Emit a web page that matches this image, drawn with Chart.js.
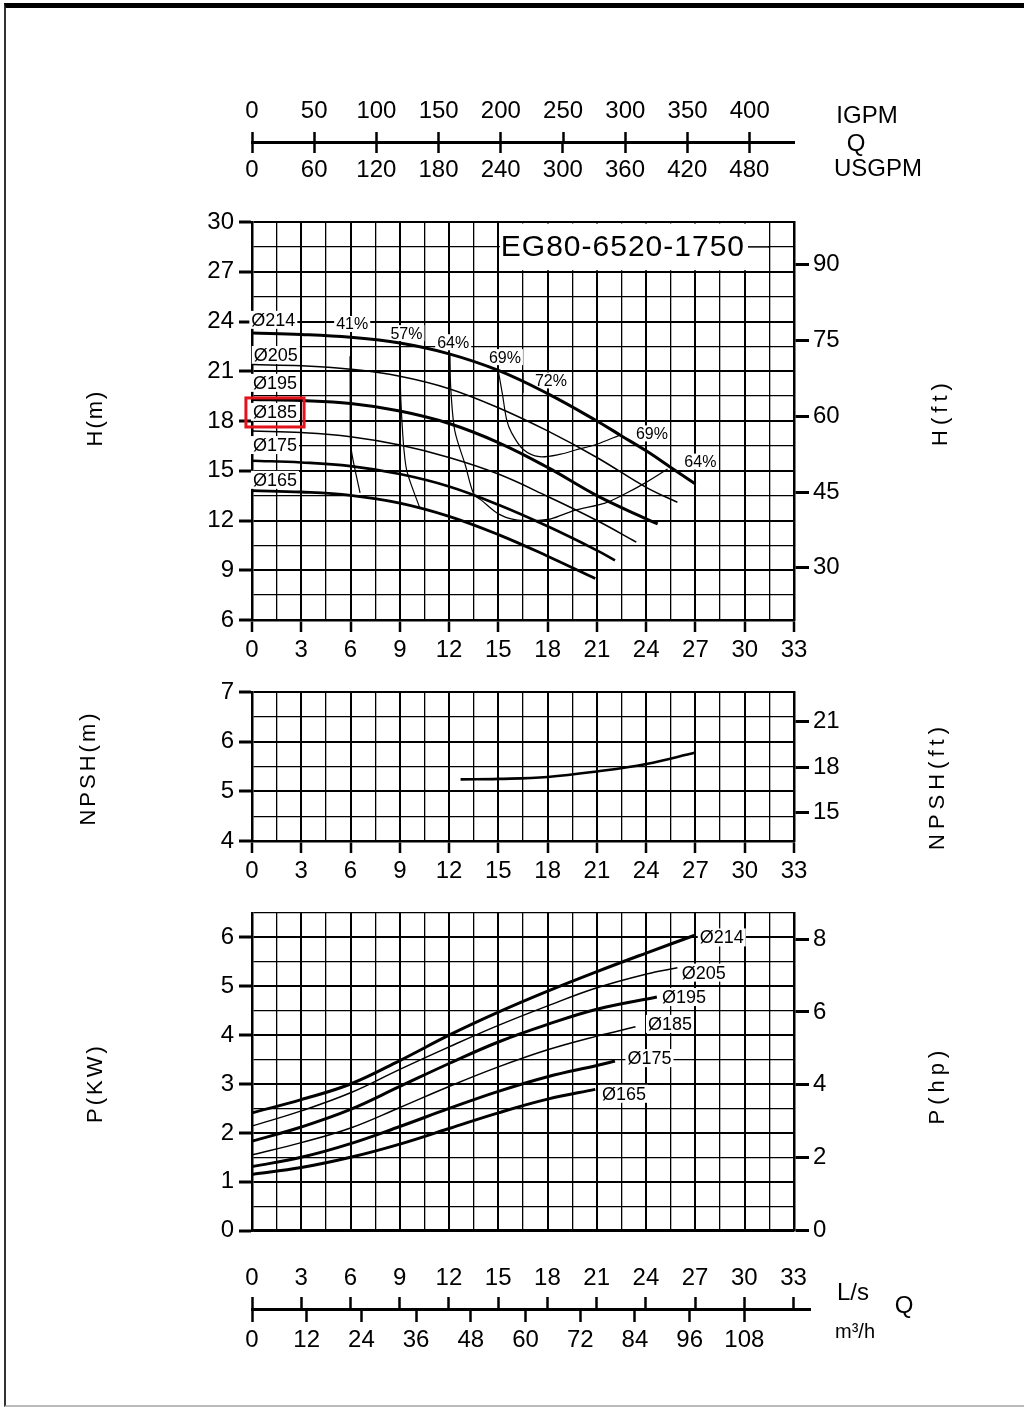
<!DOCTYPE html>
<html>
<head>
<meta charset="utf-8">
<title>EG80-6520-1750</title>
<script src="https://cdn.jsdelivr.net/npm/chart.js@4.4.1/dist/chart.umd.min.js"></script>
<style>
  html, body { margin: 0; padding: 0; background: #fff; }
  body { width: 1024px; height: 1407px; position: relative; overflow: hidden;
         font-family: "Liberation Sans", Arial, sans-serif; color: #000; }
  .frame { position: absolute; left: 4px; top: 3px; width: 1040px; height: 1397px;
           border-top: 5px solid #000; border-left: 2px solid #333; border-bottom: 2px solid #bbb; }
  canvas { position: absolute; left: 0; }
  .lbl { position: absolute; white-space: nowrap; transform: translate(-50%, -50%);
         font-size: 24px; line-height: 1; }
  .rot { transform: translate(-50%, -50%) rotate(-90deg); font-size: 22px; letter-spacing: 2px; }
  .wide { letter-spacing: 5px; }
</style>
</head>
<body>
<div class="frame"></div>

<canvas id="qTop" width="1024" height="110" style="top:80px"></canvas>
<canvas id="head" width="1024" height="480" style="top:190px"></canvas>
<canvas id="npsh" width="1024" height="221" style="top:670px"></canvas>
<canvas id="power" width="1024" height="359" style="top:891px"></canvas>
<canvas id="qBottom" width="1024" height="110" style="top:1250px"></canvas>

<div class="lbl" style="left:867px;top:115px">IGPM</div>
<div class="lbl" style="left:856px;top:143px">Q</div>
<div class="lbl" style="left:878px;top:168px">USGPM</div>

<div class="lbl rot" style="left:95px;top:418px">H(m)</div>
<div class="lbl rot wide" style="left:940px;top:412px">H(ft)</div>
<div class="lbl rot" style="left:88px;top:768px;letter-spacing:3px">NPSH(m)</div>
<div class="lbl rot wide" style="left:937px;top:786px">NPSH(ft)</div>
<div class="lbl rot" style="left:95px;top:1083px;letter-spacing:3px">P(KW)</div>
<div class="lbl rot wide" style="left:937px;top:1085px">P(hp)</div>

<div class="lbl" style="left:853px;top:1292px">L/s</div>
<div class="lbl" style="left:904px;top:1305px">Q</div>
<div class="lbl" style="left:855px;top:1331px;font-size:20px">m³/h</div>

<script>
// unit conversions for the secondary axes
const LS_TO_IGPM = 13.198;
const LS_TO_USGPM = 15.850;
const LS_TO_M3H = 3.6;
const M_TO_FT = 1 / 0.3048;
const KW_TO_HP = 1 / 0.7457;

const modelName = 'EG80-6520-1750';
const impellers = ['Ø214', 'Ø205', 'Ø195', 'Ø185', 'Ø175', 'Ø165'];

// H-Q curves (Q in L/s, H in m)
const headQ214 = [0, 3, 6, 9, 12, 15, 18, 21, 22.5, 24, 25.5, 27];
const headH214 = [23.3, 23.22, 23.05, 22.7, 22.05, 21.05, 19.65, 18.0, 17.1, 16.2, 15.2, 14.2];
const headQ205 = [0, 3, 6, 9, 12, 15, 18, 21, 24, 25.9];
const headH205 = [21.4, 21.33, 21.12, 20.7, 19.95, 18.8, 17.4, 15.8, 14.0, 13.1];
const headQ195 = [0, 3, 6, 9, 12, 15, 18, 21, 24, 24.7];
const headH195 = [19.3, 19.23, 19.05, 18.6, 17.85, 16.7, 15.2, 13.5, 12.1, 11.8];
const headQ185 = [0, 3, 6, 9, 12, 15, 18, 21, 23.4];
const headH185 = [17.4, 17.3, 17.05, 16.55, 15.8, 14.8, 13.45, 12.0, 10.7];
const headQ175 = [0, 3, 6, 9, 12, 15, 18, 21, 22.1];
const headH175 = [15.6, 15.5, 15.28, 14.8, 14.05, 12.95, 11.65, 10.2, 9.6];
const headQ165 = [0, 3, 6, 9, 12, 15, 18, 20.9];
const headH165 = [13.8, 13.72, 13.52, 13.05, 12.25, 11.15, 9.85, 8.5];

// iso-efficiency lines
const effQ41 = [5.97, 5.98, 6.0, 6.15, 6.58];
const effH41 = [21.9, 19.5, 16.7, 15.65, 13.66];
const effQ57 = [9.0, 9.02, 9.1, 9.25, 9.45, 10.2];
const effH57 = [22.6, 20.5, 18.5, 16.3, 14.9, 12.8];
const effQ64 = [12.05, 12.1, 12.35, 13.0, 13.5, 14.0, 15.0, 16.0, 17.1, 18.2, 19.6, 21.5, 22.6, 24.0, 25.3];
const effH64 = [22.1, 20.0, 17.4, 15.3, 13.6, 13.2, 12.4, 12.05, 12.0, 12.1, 12.6, 13.05, 13.55, 14.3, 15.1];
const effQ69 = [15.0, 15.25, 15.5, 15.8, 16.5, 17.5, 18.8, 19.7, 21.0, 22.4];
const effH69 = [21.0, 19.6, 18.1, 17.3, 16.3, 15.85, 16.0, 16.25, 16.6, 17.15];
const effQ72 = [16.5, 16.5, 17.2, 18.0, 18.0];
const effH72 = [20.9, 19.7, null, 17.8, 16.9];

const effTags = ['41%', '57%', '64%', '69%', '72%', '69%', '64%'];
const effTagQ = [6.1, 9.4, 12.25, 15.4, 18.2, 24.35, 27.3];
const effTagH = [23.85, 23.3, 22.75, 21.85, 20.45, 17.25, 15.55];
const headTagQ = [1.3, 1.45, 1.4, 1.4, 1.4, 1.4];
const headTagH = [24.1, 21.98, 20.3, 18.55, 16.55, 14.45];

// NPSH-Q curve
const npshQ = [12.7, 15, 18, 21, 24, 27];
const npshM = [5.24, 5.25, 5.29, 5.4, 5.55, 5.78];

// P-Q curves (kW)
const powerQ214 = [0, 3, 6, 9, 12, 15, 18, 21, 24, 27];
const powerP214 = [2.41, 2.68, 3.0, 3.48, 4.0, 4.47, 4.9, 5.3, 5.68, 6.05];
const powerQ205 = [0, 3, 6, 9, 12, 15, 18, 21, 24, 25.9];
const powerP205 = [2.14, 2.45, 2.82, 3.3, 3.76, 4.2, 4.6, 4.97, 5.25, 5.38];
const powerQ195 = [0, 3, 6, 9, 12, 15, 18, 21, 24.65];
const powerP195 = [1.83, 2.12, 2.48, 2.95, 3.42, 3.86, 4.22, 4.53, 4.78];
const powerQ185 = [0, 3, 6, 9, 12, 15, 18, 21, 23.35];
const powerP185 = [1.55, 1.8, 2.1, 2.52, 2.95, 3.35, 3.7, 3.98, 4.17];
const powerQ175 = [0, 3, 6, 9, 12, 15, 18, 21, 22.1];
const powerP175 = [1.31, 1.5, 1.78, 2.13, 2.5, 2.85, 3.15, 3.38, 3.47];
const powerQ165 = [0, 3, 6, 9, 12, 15, 18, 20.9];
const powerP165 = [1.15, 1.29, 1.5, 1.77, 2.09, 2.41, 2.69, 2.89];

const powerTagQ = [28.6, 27.5, 26.3, 25.45, 24.2, 22.65];
const powerTagP = [6.0, 5.28, 4.78, 4.23, 3.53, 2.8];

// tick labels
const igpmTicks = [0, 50, 100, 150, 200, 250, 300, 350, 400];
const usgpmTicks = [0, 60, 120, 180, 240, 300, 360, 420, 480];
const lsTicks = [0, 3, 6, 9, 12, 15, 18, 21, 24, 27, 30, 33];
const m3hTicks = [0, 12, 24, 36, 48, 60, 72, 84, 96, 108];
const ftTicks = [30, 45, 60, 75, 90];
const npshFtTicks = [15, 18, 21];
const hpTicks = [0, 2, 4, 6, 8];

const FONT = '"Liberation Sans", Arial, sans-serif';
Chart.defaults.font.family = FONT;
Chart.defaults.font.size = 24;
Chart.defaults.color = '#000';

const isMult = (v, m) => Math.abs(v / m - Math.round(v / m)) < 1e-6;

function line(qs, vs, width, extra) {
  return Object.assign({
    data: qs.map((q, i) => ({ x: q, y: vs[i] })),
    borderColor: '#000',
    borderWidth: width,
    pointRadius: 0,
    fill: false,
    tension: 0.4
  }, extra || {});
}

function effLine(qs, vs) {
  return line(qs, vs, 1.2, { tension: 0.3 });
}

function fixed(values) {
  return s => { s.ticks = values.map(v => ({ value: v })); };
}

function flowAxis(showLabels, height) {
  return {
    type: 'linear', position: 'bottom', min: 0, max: 33,
    afterFit: s => { s.height = height; },
    ticks: {
      display: showLabels, stepSize: 1.5, autoSkip: false, maxRotation: 0, padding: 4,
      callback: v => isMult(v, 3) ? v : ''
    },
    grid: {
      color: '#000',
      lineWidth: c => (c.tick && isMult(c.tick.value, 3)) ? 2 : 1.3,
      drawTicks: showLabels, tickLength: 12, tickWidth: 2.5,
      tickColor: c => (c.tick && isMult(c.tick.value, 3)) ? '#000' : 'rgba(0,0,0,0)'
    },
    border: { display: true, color: '#000', width: 2.5 }
  };
}

function leftAxis(min, max, step, major) {
  return {
    type: 'linear', position: 'left', min: min, max: max,
    afterFit: s => { s.width = 252; },
    ticks: { stepSize: step, autoSkip: false, padding: 5, callback: v => isMult(v, major) ? v : '' },
    grid: {
      color: '#000',
      lineWidth: c => (c.tick && isMult(c.tick.value, major)) ? 2 : 1.3,
      tickLength: 13, tickWidth: 3,
      tickColor: c => (c.tick && isMult(c.tick.value, major)) ? '#000' : 'rgba(0,0,0,0)'
    },
    border: { display: true, color: '#000', width: 2.5 }
  };
}

function rightAxis(min, max, values) {
  return {
    type: 'linear', position: 'right', min: min, max: max,
    afterFit: s => { s.width = 230; },
    afterBuildTicks: fixed(values),
    ticks: { autoSkip: false, padding: 4 },
    grid: { drawOnChartArea: false, color: '#000', tickLength: 15, tickWidth: 3 },
    border: { display: true, color: '#000', width: 2.5 }
  };
}

// white-backed text marks placed through the chart scales, under the curves
function tags(id, texts, qs, vs, size) {
  return {
    id: id,
    beforeDatasetsDraw(chart) {
      const { ctx } = chart;
      const xs = chart.scales.x, ys = chart.scales.y;
      ctx.save();
      ctx.font = size + 'px ' + FONT;
      ctx.textAlign = 'center';
      ctx.textBaseline = 'middle';
      texts.forEach((t, i) => {
        const px = xs.getPixelForValue(qs[i]);
        const py = ys.getPixelForValue(vs[i]);
        const w = ctx.measureText(t).width;
        ctx.fillStyle = '#fff';
        ctx.fillRect(px - w / 2 - 2, py - size * 0.5, w + 4, size);
        ctx.fillStyle = '#000';
        ctx.fillText(t, px, py + 1);
      });
      ctx.restore();
    }
  };
}

const titleBox = {
  id: 'titleBox',
  beforeDatasetsDraw(chart) {
    const { ctx } = chart;
    const xs = chart.scales.x, ys = chart.scales.y;
    const l = xs.getPixelForValue(15), r = xs.getPixelForValue(31.5);
    const t = ys.getPixelForValue(30), b = ys.getPixelForValue(27);
    ctx.save();
    ctx.fillStyle = '#fff';
    ctx.fillRect(l + 1.5, t + 1.5, r - l - 3, b - t - 3);
    ctx.font = '30px ' + FONT;
    ctx.letterSpacing = '1px';
    ctx.textBaseline = 'middle';
    const tx = xs.getPixelForValue(15.15), ty = ys.getPixelForValue(28.5);
    const w = ctx.measureText(modelName).width;
    ctx.fillStyle = '#000';
    ctx.fillText(modelName, tx, ty + 1);
    ctx.strokeStyle = '#000';
    ctx.lineWidth = 1.5;
    ctx.beginPath();
    ctx.moveTo(tx + w + 3, ty);
    ctx.lineTo(r, ty);
    ctx.stroke();
    ctx.restore();
  }
};

const highlight = {
  id: 'highlight',
  afterDraw(chart) {
    const { ctx } = chart;
    const xs = chart.scales.x, ys = chart.scales.y;
    const l = xs.getPixelForValue(-0.37), r = xs.getPixelForValue(3.17);
    const t = ys.getPixelForValue(19.39), b = ys.getPixelForValue(17.64);
    ctx.save();
    ctx.strokeStyle = '#e3131b';
    ctx.lineWidth = 3;
    ctx.strokeRect(l, t, r - l, b - t);
    ctx.restore();
  }
};

const common = {
  responsive: false,
  animation: false,
  events: [],
  plugins: { legend: { display: false }, tooltip: { enabled: false } }
};

// top conversion scale: IGPM / USGPM
new Chart(document.getElementById('qTop'), {
  type: 'line',
  data: { datasets: [] },
  options: Object.assign({}, common, {
    layout: { padding: { left: 252, right: 230, top: 0, bottom: 0 } },
    scales: {
      igpm: {
        type: 'linear', axis: 'x', position: 'top', min: 0, max: 33 * LS_TO_IGPM,
        afterFit: s => { s.height = 62; },
        afterBuildTicks: fixed(igpmTicks),
        ticks: { padding: 6, maxRotation: 0, autoSkip: false },
        grid: { drawOnChartArea: false, color: '#000', tickLength: 10, tickWidth: 2.5 },
        border: { display: true, color: '#000', width: 2 }
      },
      usgpm: {
        type: 'linear', axis: 'x', position: 'bottom', min: 0, max: 33 * LS_TO_USGPM,
        afterFit: s => { s.height = 47; },
        afterBuildTicks: fixed(usgpmTicks),
        ticks: { padding: 3, maxRotation: 0, autoSkip: false },
        grid: { drawOnChartArea: false, color: '#000', tickLength: 10, tickWidth: 2.5 },
        border: { display: true, color: '#000', width: 2 }
      },
      y: { display: false }
    }
  })
});

// H-Q
new Chart(document.getElementById('head'), {
  type: 'line',
  data: {
    datasets: [
      line(headQ214, headH214, 3),
      line(headQ205, headH205, 1.5),
      line(headQ195, headH195, 3),
      line(headQ185, headH185, 1.5),
      line(headQ175, headH175, 2.6),
      line(headQ165, headH165, 2.8),
      effLine(effQ41, effH41),
      effLine(effQ57, effH57),
      effLine(effQ64, effH64),
      effLine(effQ69, effH69),
      line(effQ72, effH72, 1.2, { tension: 0 })
    ]
  },
  options: Object.assign({}, common, {
    layout: { padding: { top: 32, left: 0, right: 0, bottom: 0 } },
    scales: {
      x: flowAxis(true, 50),
      y: leftAxis(6, 30, 1.5, 3),
      yFt: rightAxis(6 * M_TO_FT, 30 * M_TO_FT, ftTicks)
    }
  }),
  plugins: [
    titleBox,
    tags('headTags', impellers, headTagQ, headTagH, 18),
    tags('effTags', effTags, effTagQ, effTagH, 16),
    highlight
  ]
});

// NPSH-Q
new Chart(document.getElementById('npsh'), {
  type: 'line',
  data: { datasets: [line(npshQ, npshM, 2.6)] },
  options: Object.assign({}, common, {
    layout: { padding: { top: 22, left: 0, right: 0, bottom: 0 } },
    scales: {
      x: flowAxis(true, 50),
      y: leftAxis(4, 7, 0.5, 1),
      yFt: rightAxis(4 * M_TO_FT, 7 * M_TO_FT, npshFtTicks)
    }
  })
});

// P-Q
new Chart(document.getElementById('power'), {
  type: 'line',
  data: {
    datasets: [
      line(powerQ214, powerP214, 3),
      line(powerQ205, powerP205, 1.5),
      line(powerQ195, powerP195, 3),
      line(powerQ185, powerP185, 1.5),
      line(powerQ175, powerP175, 3),
      line(powerQ165, powerP165, 3)
    ]
  },
  options: Object.assign({}, common, {
    layout: { padding: { top: 22, left: 0, right: 0, bottom: 0 } },
    scales: {
      x: flowAxis(false, 15),
      y: leftAxis(0, 6.5, 0.5, 1),
      yHp: rightAxis(0, 6.5 * KW_TO_HP, hpTicks)
    }
  }),
  plugins: [tags('powerTags', impellers, powerTagQ, powerTagP, 18)]
});

// bottom conversion scale: L/s / m3/h
new Chart(document.getElementById('qBottom'), {
  type: 'line',
  data: { datasets: [] },
  options: Object.assign({}, common, {
    layout: { padding: { left: 252, right: 214, top: 0, bottom: 0 } },
    scales: {
      ls: {
        type: 'linear', axis: 'x', position: 'top', min: 0, max: 34,
        afterFit: s => { s.height = 59; },
        afterBuildTicks: fixed(lsTicks),
        ticks: { padding: 4, maxRotation: 0, autoSkip: false },
        grid: { drawOnChartArea: false, color: '#000', tickLength: 12, tickWidth: 2.5 },
        border: { display: true, color: '#000', width: 2 }
      },
      m3h: {
        type: 'linear', axis: 'x', position: 'bottom', min: 0, max: 34 * LS_TO_M3H,
        afterFit: s => { s.height = 50; },
        afterBuildTicks: fixed(m3hTicks),
        ticks: { padding: 4, maxRotation: 0, autoSkip: false },
        grid: { drawOnChartArea: false, color: '#000', tickLength: 12, tickWidth: 2.5 },
        border: { display: true, color: '#000', width: 2 }
      },
      y: { display: false }
    }
  })
});
</script>
</body>
</html>
